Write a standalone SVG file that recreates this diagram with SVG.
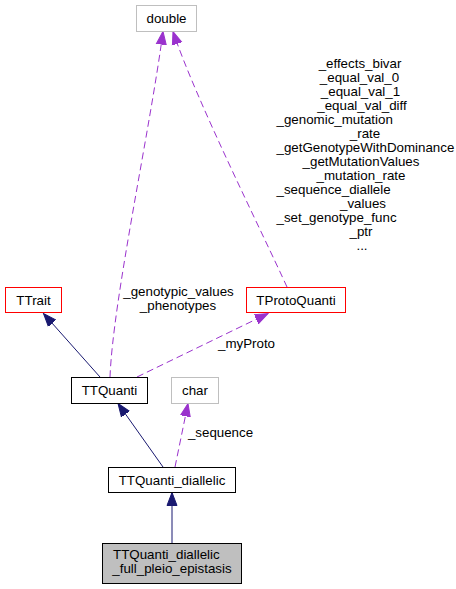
<svg xmlns="http://www.w3.org/2000/svg" width="456" height="589" viewBox="0 0 456 589">
<style>
  text { font-family: "Liberation Sans", Arial, sans-serif; font-size: 13.33px; fill: #000; }
  .node rect { fill: #fff; stroke-width: 1; }
  .gray rect { stroke: #bfbfbf; }
  .red rect { stroke: #ff0000; }
  .black rect { stroke: #000; }
  .inh { fill: none; stroke: #191970; stroke-width: 1; }
  .use { fill: none; stroke: #9a32cd; stroke-width: 1; stroke-dasharray: 7,4; }
  .m { text-anchor: middle; }
  .s { text-anchor: start; }
</style>
<defs>
  <marker id="arrInh" markerUnits="userSpaceOnUse" markerWidth="14" markerHeight="12" refX="13" refY="5" orient="auto" viewBox="0 0 14 10">
    <polygon points="0,0 13,5 0,10" fill="#191970" stroke="#191970"/>
  </marker>
  <marker id="arrUse" markerUnits="userSpaceOnUse" markerWidth="14" markerHeight="12" refX="13" refY="5" orient="auto" viewBox="0 0 14 10">
    <polygon points="0,0 13,5 0,10" fill="#9a32cd" stroke="#9a32cd"/>
  </marker>
</defs>
<rect width="456" height="589" fill="#fff"/>
<g id="edges">
  <path class="inh" d="M100,377 L43.5,313.5" marker-end="url(#arrInh)"/>
  <path class="inh" d="M163,467 L118,403.5" marker-end="url(#arrInh)"/>
  <path class="inh" d="M172,543 L172,492.5" marker-end="url(#arrInh)"/>
  <path class="use" d="M175,467 L188,403.5" marker-end="url(#arrUse)"/>
  <path class="use" d="M110,377 C113,300 150,130 163,31.5" marker-end="url(#arrUse)"/>
  <path class="use" d="M287,287 C262,232 196,100 173,31.5" marker-end="url(#arrUse)"/>
  <path class="use" d="M137,377 L268,313.5" marker-end="url(#arrUse)"/>
  <text class="m" x="178.5" y="296">_genotypic_values</text>
  <text class="m" x="178" y="310">_phenotypes</text>
  <text class="m" x="246.5" y="348">_myProto</text>
  <text class="m" x="220.5" y="437">_sequence</text>
  <text class="m" x="360" y="67.5">_effects_bivar</text>
  <text class="m" x="359.5" y="81.5">_equal_val_0</text>
  <text class="m" x="360.5" y="95.5">_equal_val_1</text>
  <text class="m" x="362" y="109.5">_equal_val_diff</text>
  <text class="s" x="276.5" y="123.5">_genomic_mutation</text>
  <text class="m" x="365" y="137.5">_rate</text>
  <text class="s" x="276.5" y="151.5">_getGenotypeWithDominance</text>
  <text class="m" x="361" y="165.5">_getMutationValues</text>
  <text class="m" x="361" y="179.5">_mutation_rate</text>
  <text class="s" x="276.5" y="193.5">_sequence_diallele</text>
  <text class="m" x="363" y="207.5">_values</text>
  <text class="s" x="276.5" y="221.5">_set_genotype_func</text>
  <text class="m" x="361" y="235.5">_ptr</text>
  <text class="m" x="362" y="249.5">...</text>
</g>
<g id="node-double" class="node gray">
  <rect x="136.5" y="5.5" width="60" height="26"/>
  <text class="m" x="166.5" y="23">double</text>
</g>
<g id="node-TTrait" class="node red">
  <rect x="5.5" y="287.5" width="56" height="25"/>
  <text class="m" x="33.5" y="304.5">TTrait</text>
</g>
<g id="node-TProtoQuanti" class="node red">
  <rect x="246.5" y="287.5" width="99" height="25"/>
  <text class="m" x="296" y="304.5">TProtoQuanti</text>
</g>
<g id="node-TTQuanti" class="node black">
  <rect x="71.5" y="377.5" width="76" height="26"/>
  <text class="m" x="109.5" y="395">TTQuanti</text>
</g>
<g id="node-char" class="node gray">
  <rect x="171.5" y="377.5" width="47" height="26"/>
  <text class="m" x="195" y="395">char</text>
</g>
<g id="node-TTQuanti_diallelic" class="node black">
  <rect x="108.5" y="467.5" width="127" height="25"/>
  <text class="m" x="172" y="484.5">TTQuanti_diallelic</text>
</g>
<g id="node-TTQuanti_diallelic_full_pleio_epistasis" class="node black">
  <rect x="102.5" y="543.5" width="139" height="40" style="fill:#bfbfbf"/>
  <text class="s" x="113" y="559">TTQuanti_diallelic</text>
  <text class="m" x="172" y="573">_full_pleio_epistasis</text>
</g>
</svg>
